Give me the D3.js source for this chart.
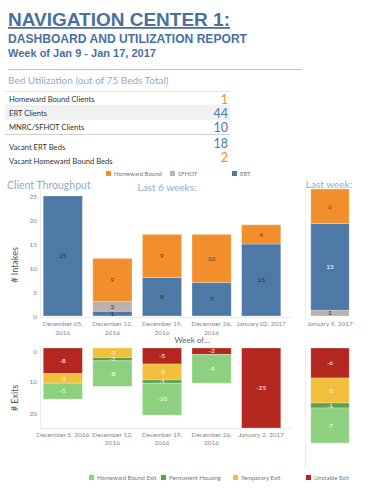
<!DOCTYPE html>
<html>
<head>
<meta charset="utf-8">
<script src="https://cdn.jsdelivr.net/npm/d3@7"></script>
<style>
  body { margin: 0; background: #fff; }
  text { font-family: Lato, "Open Sans", sans-serif; }
</style>
</head>
<body>
<svg></svg>
<script>
const w = 370;
const h = 497;

// bed utilization table
const bedLabels = ["Homeward Bound Clients", "ERT Clients", "MNRC/SFHOT Clients", "Vacant ERT Beds", "Vacant Homeward Bound Beds"];
const bedValues = [1, 44, 10, 18, 2];
const bedKinds = ["HB", "ERT", "ERT", "ERT", "HB"];

// intakes, last 6 weeks
const weeks = ["December 05, 2016", "December 12, 2016", "December 19, 2016", "December 26, 2016", "January 02, 2017"];
const intakeERT = [25, 1, 8, 7, 15];
const intakeSFHOT = [0, 2, 0, 0, 0];
const intakeHB = [0, 9, 9, 10, 4];

// intakes, last week
const lastWeek = ["January 9, 2017"];
const lastIntakeERT = [15];
const lastIntakeSFHOT = [1];
const lastIntakeHB = [6];

// exits
const exitWeeks = ["December 5, 2016", "December 12, 2016", "December 19, 2016", "December 26, 2016", "January 2, 2017"];
const exitUnstable = [8, 0, 5, 2, 25];
const exitTemp = [3, 3, 5, 0, 0];
const exitPerm = [0, 1, 1, 0, 0];
const exitHB = [5, 8, 10, 9, 0];
const lastExitUnstable = [6];
const lastExitTemp = [5];
const lastExitPerm = [1];
const lastExitHB = [7];

const intakeTicks = [0, 5, 10, 15, 20, 25];
const exitTicks = [0, 10, 20];

const colors = {
    HB: "#f28e2b", SFHOT: "#bab0ac", ERT: "#4e79a7",
    exitHB: "#8dd07f", perm: "#59a14f", temp: "#f1bf3b", unstable: "#b3271e"
};
const titleBlue = "#4a6fa0";
const lightBlue = "#8facce";

let svg = d3.select("svg").attr("width", w).attr("height", h);

// ---- header
svg.append("text").attr("x", 8).attr("y", 26)
   .attr("textLength", 222).attr("lengthAdjust", "spacingAndGlyphs")
   .style("font-family", "'Liberation Sans', Arial, sans-serif")
   .style("font-weight", "bold").style("font-size", "18px")
   .style("text-decoration", "underline")
   .attr("fill", titleBlue).text("NAVIGATION CENTER 1:");
svg.append("text").attr("x", 8).attr("y", 43)
   .attr("textLength", 239).attr("lengthAdjust", "spacingAndGlyphs")
   .style("font-family", "'Liberation Sans', Arial, sans-serif")
   .style("font-weight", "bold").style("font-size", "12.5px")
   .attr("fill", titleBlue).text("DASHBOARD AND UTILIZATION REPORT");
svg.append("text").attr("x", 8).attr("y", 57)
   .attr("textLength", 148).attr("lengthAdjust", "spacingAndGlyphs")
   .style("font-family", "'Liberation Sans', Arial, sans-serif")
   .style("font-weight", "bold").style("font-size", "10.5px")
   .attr("fill", titleBlue).text("Week of Jan 9 - Jan 17, 2017");
svg.append("line").attr("x1", 8).attr("x2", 302).attr("y1", 69.5).attr("y2", 69.5)
   .attr("stroke", "#b9c5d6");

svg.append("text").attr("x", 8).attr("y", 84)
   .style("font-size", "10px").attr("fill", lightBlue)
   .text("Bed Utilization (out of 75 Beds Total)");

// ---- table
const rowY = d3.scaleOrdinal().domain(bedLabels).range([102, 116, 130, 150, 164]);
const valY = d3.scaleOrdinal().domain(bedLabels).range([104, 118, 132, 148, 162]);

svg.append("line").attr("x1", 5).attr("x2", 230).attr("y1", 91.5).attr("y2", 91.5).attr("stroke", "#e2e2e2");
svg.append("rect").attr("x", 5).attr("y", 105).attr("width", 225).attr("height", 15).attr("fill", "#f1f1f1");
svg.append("line").attr("x1", 5).attr("x2", 230).attr("y1", 134.5).attr("y2", 134.5).attr("stroke", "#cfcfcf");

svg.selectAll(".bedLabel").data(bedLabels).enter().append("text")
   .attr("class", "bedLabel").attr("x", 9).attr("y", d => rowY(d))
   .style("font-size", "7.6px").attr("fill", "#333").text(d => d);
svg.selectAll(".bedValue").data(bedValues).enter().append("text")
   .attr("class", "bedValue").attr("x", 228).attr("y", (d, i) => valY(bedLabels[i]))
   .attr("text-anchor", "end").style("font-size", "12.5px")
   .attr("fill", (d, i) => colors[bedKinds[i]]).text(d => d);

// ---- legend helper
const legend = (items, y) => {
    items.forEach(it => {
        svg.append("rect").attr("x", it.x).attr("y", y - 3).attr("width", 5).attr("height", 5).attr("fill", it.c);
        svg.append("text").attr("x", it.x + 8).attr("y", y + 2)
           .style("font-size", "6px").attr("fill", "#777").text(it.t);
    });
};
legend([{x: 106, c: colors.HB, t: "Homeward Bound"},
        {x: 170, c: colors.SFHOT, t: "SFHOT"},
        {x: 232, c: colors.ERT, t: "ERT"}], 174);

svg.append("text").attr("x", 7).attr("y", 189).style("font-size", "10.5px").attr("fill", lightBlue).text("Client Throughput");
svg.append("text").attr("x", 167).attr("y", 191).attr("text-anchor", "middle").style("font-size", "10px").attr("fill", lightBlue).text("Last 6 weeks:");
svg.append("text").attr("x", 329).attr("y", 188).attr("text-anchor", "middle").style("font-size", "10px").attr("fill", lightBlue).text("Last week:");

// ---- scales
let xScale = d3.scaleBand().domain(weeks).range([38, 286]).paddingInner(0.21).paddingOuter(0.105);
let xExit = d3.scaleBand().domain(exitWeeks).range([38, 286]).paddingInner(0.21).paddingOuter(0.105);
let xLast = d3.scaleBand().domain(lastWeek).range([306, 354]).paddingInner(0.2).paddingOuter(0.1);

let yIntake = d3.scaleLinear().domain([0, 25]).range([316, 196]);
let yIntakeLast = d3.scaleLinear().domain([0, 22]).range([316, 189]);
let yExit = d3.scaleLinear().domain([0, 25]).range([348, 428]);
let yExitLast = d3.scaleLinear().domain([0, 19]).range([348, 443]);

// faint frame lines
const faint = "#ebebeb";
svg.append("line").attr("x1", 40.5).attr("x2", 40.5).attr("y1", 190).attr("y2", 318).attr("stroke", faint);
svg.append("line").attr("x1", 40).attr("x2", 292).attr("y1", 317.5).attr("y2", 317.5).attr("stroke", faint);
svg.append("line").attr("x1", 305.5).attr("x2", 305.5).attr("y1", 186).attr("y2", 318).attr("stroke", faint);
svg.append("line").attr("x1", 40.5).attr("x2", 40.5).attr("y1", 345).attr("y2", 428).attr("stroke", faint);
svg.append("line").attr("x1", 40).attr("x2", 292).attr("y1", 428.5).attr("y2", 428.5).attr("stroke", faint);
svg.append("line").attr("x1", 305.5).attr("x2", 305.5).attr("y1", 345).attr("y2", 468).attr("stroke", faint);

// ---- axes
let yAxisTop = d3.axisLeft(yIntake).tickValues(intakeTicks).tickSize(0).tickPadding(0);
svg.append("g").attr("id", "y-axis").attr("transform", "translate(37, 0)").call(yAxisTop)
   .call(g => g.select(".domain").remove())
   .call(g => g.selectAll("text").style("font-size", "6.5px").attr("fill", "#888")
                .style("font-family", "Lato, sans-serif"));

let yAxisBottom = d3.axisLeft(yExit).tickValues(exitTicks).tickSize(0).tickPadding(0);
svg.append("g").attr("transform", "translate(37, 0)").call(yAxisBottom)
   .call(g => g.select(".domain").remove())
   .call(g => g.selectAll("text").style("font-size", "6.5px").attr("fill", "#888")
                .style("font-family", "Lato, sans-serif")
                .attr("dy", d => d === 0 ? "0.9em" : "0.5em"));

svg.append("text").attr("transform", "translate(18, 265) rotate(-90)").attr("text-anchor", "middle")
   .style("font-size", "9px").attr("fill", "#555").text("# Intakes");
svg.append("text").attr("transform", "translate(18, 398) rotate(-90)").attr("text-anchor", "middle")
   .style("font-size", "9px").attr("fill", "#555").text("# Exits");

// ---- intake bars
const intakeRows = weeks.map((d, i) => ({week: d, ERT: intakeERT[i], SFHOT: intakeSFHOT[i], HB: intakeHB[i]}));
const lastRows = lastWeek.map((d, i) => ({week: d, ERT: lastIntakeERT[i], SFHOT: lastIntakeSFHOT[i], HB: lastIntakeHB[i]}));

const drawStack = (rows, keys, x, y, fills, labelColor, down) => {
    let series = d3.stack().keys(keys)(rows);
    series.forEach(s => {
        let g = svg.append("g");
        s.forEach(seg => {
            let v = seg[1] - seg[0];
            if (v === 0) return;
            let y0 = y(seg[0]), y1 = y(seg[1]);
            let top = Math.min(y0, y1), ht = Math.abs(y1 - y0);
            g.append("rect").attr("class", "bar")
             .attr("x", x(seg.data.week)).attr("width", x.bandwidth())
             .attr("y", top).attr("height", ht)
             .attr("fill", fills[s.key]).attr("stroke", "rgba(255,255,255,0.35)").attr("stroke-width", 0.8);
            g.append("text").attr("x", x(seg.data.week) + x.bandwidth() / 2)
             .attr("y", top + ht / 2).attr("dy", "0.35em").attr("text-anchor", "middle")
             .style("font-size", "6.5px").attr("fill", labelColor(s.key))
             .text(down ? "-" + v : v);
        });
    });
};

drawStack(intakeRows, ["ERT", "SFHOT", "HB"], xScale, yIntake, colors,
          k => k === "HB" ? "#5a3a1a" : "#2b2b2b", false);
drawStack(lastRows, ["SFHOT", "ERT", "HB"], xLast, yIntakeLast, colors,
          k => k === "ERT" ? "#fff" : (k === "HB" ? "#7a4a1a" : "#2b2b2b"), false);

// ---- exit bars
const exitFills = {unstable: colors.unstable, temp: colors.temp, perm: colors.perm, exitHB: colors.exitHB};
const exitRows = exitWeeks.map((d, i) => ({week: d, unstable: exitUnstable[i], temp: exitTemp[i], perm: exitPerm[i], exitHB: exitHB[i]}));
const lastExitRows = lastWeek.map((d, i) => ({week: d, unstable: lastExitUnstable[i], temp: lastExitTemp[i], perm: lastExitPerm[i], exitHB: lastExitHB[i]}));

drawStack(exitRows, ["unstable", "temp", "perm", "exitHB"], xExit, yExit, exitFills, () => "#fff", true);
drawStack(lastExitRows, ["unstable", "temp", "perm", "exitHB"], xLast, yExitLast, exitFills, () => "#fff", true);

// ---- x labels
const splitLabel = d => {
    let parts = d.split(", ");
    return d.length > 16 ? [parts[0] + ",", parts[1]] : [d];
};
const xLabels = (domain, x, y0) => {
    domain.forEach(d => {
        let t = svg.append("text").attr("text-anchor", "middle")
                   .style("font-size", "6.5px").attr("fill", "#888");
        splitLabel(d).forEach((line, j) => {
            t.append("tspan").attr("x", x(d) + x.bandwidth() / 2).attr("y", y0 + j * 8.5).text(line);
        });
    });
};
xLabels(weeks.slice(0, 4), xScale, 326);
svg.append("text").attr("x", xScale(weeks[4]) + xScale.bandwidth() / 2).attr("y", 326)
   .attr("text-anchor", "middle").style("font-size", "6.5px").attr("fill", "#888").text(weeks[4]);
svg.append("text").attr("x", xLast(lastWeek[0]) + xLast.bandwidth() / 2).attr("y", 326)
   .attr("text-anchor", "middle").style("font-size", "6.5px").attr("fill", "#888").text(lastWeek[0]);
svg.append("text").attr("x", 192).attr("y", 342.5).attr("text-anchor", "middle")
   .style("font-size", "8px").attr("fill", "#666").text("Week of...");

// exit x labels: first and last on one line
exitWeeks.forEach((d, i) => {
    let lines = (i === 0 || i === 4) ? [d] : splitLabel(d);
    let t = svg.append("text").attr("text-anchor", "middle").style("font-size", "6.5px").attr("fill", "#888");
    lines.forEach((line, j) => {
        t.append("tspan").attr("x", xExit(d) + xExit.bandwidth() / 2).attr("y", 437 + j * 8).text(line);
    });
});

legend([{x: 89, c: colors.exitHB, t: "Homeward Bound Exit"},
        {x: 161, c: colors.perm, t: "Permanent Housing"},
        {x: 233, c: colors.temp, t: "Temporary Exit"},
        {x: 306, c: colors.unstable, t: "Unstable Exit"}], 478);
</script>
</body>
</html>
